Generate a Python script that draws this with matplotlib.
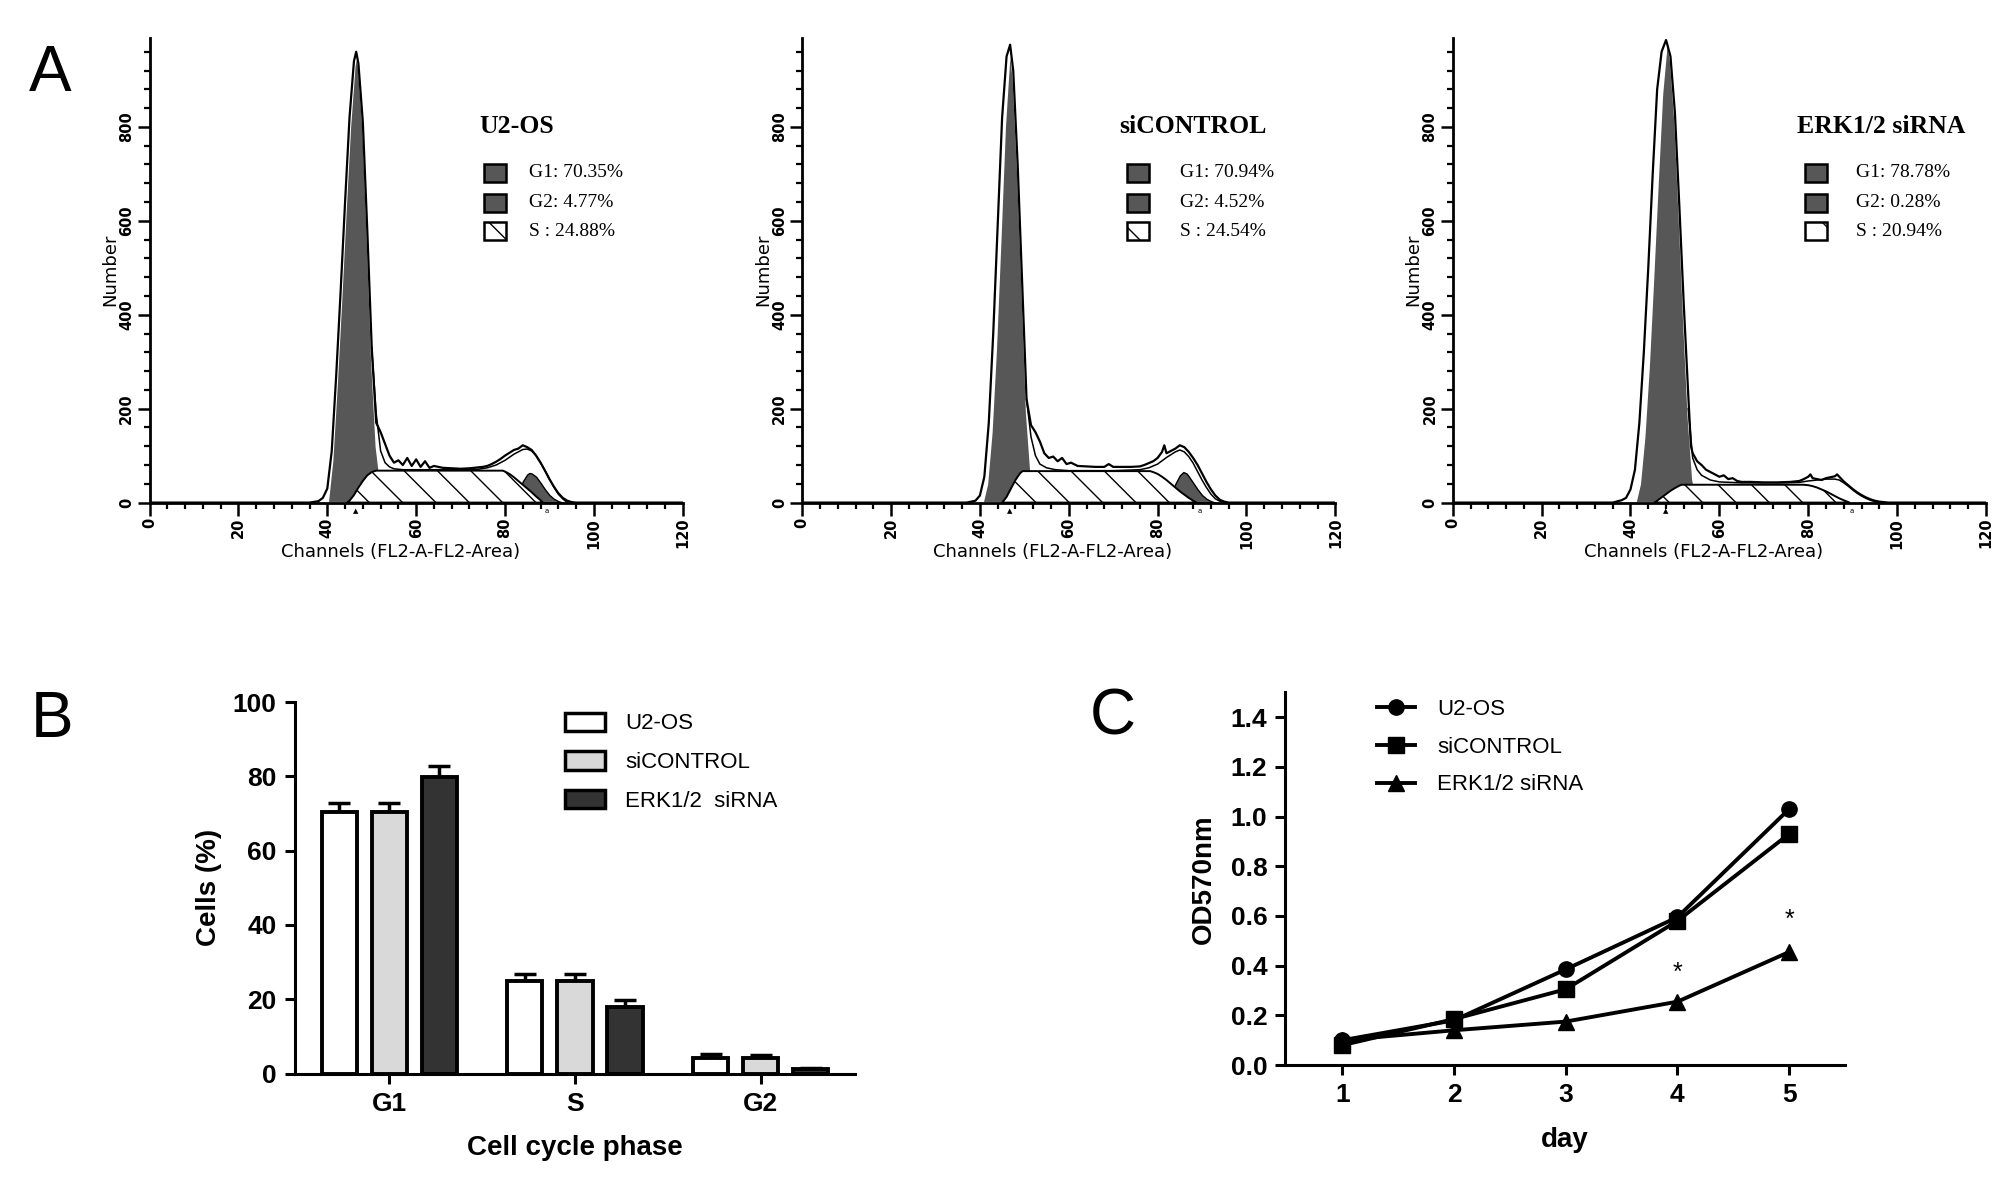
import matplotlib.pyplot as plt
from matplotlib.patches import Rectangle, Patch
from matplotlib.ticker import MultipleLocator
import numpy as np

# ---------------- panel A : flow cytometry histograms ----------------
hist_names = ['U2-OS', 'siCONTROL', 'ERK1/2 siRNA']
hist_pcts = [['G1: 70.35%', 'G2: 4.77%', 'S : 24.88%'],
             ['G1: 70.94%', 'G2: 4.52%', 'S : 24.54%'],
             ['G1: 78.78%', 'G2: 0.28%', 'S : 20.94%']]

# U2-OS
raw_ch_1 = [0, 36, 38, 39, 40, 41, 42, 43, 44, 45, 46, 46.5, 47, 48, 49, 50, 51, 52, 53, 54, 55, 56, 57, 58, 59,
            60, 61, 62, 63, 64, 66, 68, 70, 72, 74, 75, 76, 77, 78, 79, 80, 81, 82, 83, 84, 85, 86, 87, 88, 89,
            90, 91, 92, 93, 94, 95, 96, 120]
raw_n_1 = [0, 0, 3, 10, 30, 110, 270, 450, 640, 820, 940, 960, 935, 810, 580, 330, 170, 150, 125, 100, 85, 90,
           80, 95, 78, 92, 76, 88, 74, 78, 74, 73, 72, 73, 75, 76, 78, 82, 87, 93, 100, 106, 112, 115, 122, 118,
           112, 100, 85, 68, 50, 34, 20, 10, 4, 1, 0, 0]
fit_ch_1 = [50, 51, 52, 53, 54, 55, 57, 60, 65, 70, 74, 76, 78, 80, 82, 84, 85, 86, 87, 88, 89, 90, 91, 92, 93, 94]
fit_n_1 = [330, 190, 110, 85, 76, 72, 70, 70, 70, 70, 71, 74, 80, 90, 103, 113, 114, 110, 100, 85, 68, 50, 33,
           18, 8, 0]
g1_ch_1 = [40, 41, 42, 43, 44, 45, 46, 46.5, 47, 48, 49, 50, 51, 52, 53]
g1_n_1 = [0, 90, 250, 430, 620, 800, 930, 957, 930, 800, 560, 300, 120, 40, 0]
s_ch_1 = [44.5, 45, 46, 47, 48, 49, 50, 51, 79.5, 80, 81, 82, 83, 84, 85, 86, 87, 88, 88.5]
s_n_1 = [0, 4, 16, 32, 46, 58, 65, 68, 68, 66, 61, 54, 46, 38, 30, 22, 13, 5, 0]
g2_ch_1 = [81, 82, 83, 84, 85, 85.5, 86, 87, 88, 89, 90, 91, 92, 93]
g2_n_1 = [0, 6, 22, 45, 60, 63, 62, 55, 42, 28, 16, 8, 3, 0]

# siCONTROL
raw_ch_2 = [0, 37, 39, 40, 41, 42, 43, 44, 45, 46, 46.8, 47.5, 48.5, 49.5, 50.5, 51.5, 52.5, 53.5, 54.5, 55.5,
            56.5, 57.5, 58.5, 59.5, 60.5, 62, 64, 66, 68, 69, 70, 72, 74, 76, 77, 78, 79, 80, 81, 81.5, 82, 83,
            84, 85, 86, 87, 88, 89, 90, 91, 92, 93, 94, 95, 96, 120]
raw_n_2 = [0, 0, 4, 15, 55, 170, 360, 590, 820, 950, 975, 920, 720, 470, 220, 165, 150, 130, 105, 95, 98, 88,
           95, 82, 85, 78, 77, 76, 76, 82, 76, 76, 76, 77, 80, 84, 88, 95, 108, 122, 105, 110, 115, 122, 118,
           108, 95, 80, 62, 44, 28, 15, 6, 2, 0, 0]
fit_ch_2 = [50.5, 51.5, 52.5, 53.5, 55, 57, 60, 70, 76, 78, 80, 82, 84, 85, 86, 87, 88, 89, 90, 91, 92, 93, 94, 95]
fit_n_2 = [220, 140, 100, 82, 74, 70, 68, 68, 70, 74, 82, 96, 108, 112, 108, 98, 84, 66, 48, 32, 18, 8, 3, 0]
g1_ch_2 = [40.5, 41.5, 42.5, 43.5, 44.5, 45.5, 46.5, 46.8, 47.5, 48.5, 49.5, 50.5, 51.5, 52.5]
g1_n_2 = [0, 40, 150, 330, 560, 800, 950, 970, 900, 700, 450, 190, 60, 0]
s_ch_2 = [45, 46, 47, 48, 49, 49.6, 78.3, 79, 80, 81, 82, 83, 84, 85, 86, 87, 88, 88.75]
s_n_2 = [0, 12, 30, 48, 62, 67, 67, 65, 61, 55, 48, 40, 32, 24, 17, 10, 4, 0]
g2_ch_2 = [82, 83, 84, 85, 85.8, 86.5, 87, 88, 89, 90, 91, 92, 93]
g2_n_2 = [0, 15, 40, 58, 65, 62, 56, 42, 28, 16, 8, 3, 0]

# ERK1/2 siRNA
raw_ch_3 = [0, 36, 38, 39, 40, 41, 42, 43, 44, 45, 46, 47, 48, 48.3, 49, 50, 51, 52, 53, 53.6, 54, 55, 56, 57,
            58, 59, 60, 61, 62, 63, 64, 65, 67, 70, 73, 76, 78, 79, 80, 80.5, 81, 82, 83, 84, 85, 86, 86.5, 87,
            88, 89, 90, 91, 92, 93, 94, 95, 96, 97, 98, 120]
raw_n_3 = [0, 0, 5, 10, 28, 70, 170, 320, 500, 700, 880, 960, 985, 975, 950, 830, 630, 420, 230, 120, 105, 88,
           80, 70, 65, 60, 55, 58, 50, 52, 46, 44, 44, 43, 43, 44, 46, 50, 55, 60, 52, 50, 48, 52, 54, 56, 60,
           55, 45, 37, 29, 22, 16, 11, 7, 4, 2, 1, 0, 0]
fit_ch_3 = [53, 54, 55, 56, 58, 60, 65, 75, 78, 80, 82, 84, 86, 87, 88, 89, 90, 91, 92, 93, 94, 95, 96]
fit_n_3 = [200, 95, 70, 58, 48, 44, 42, 42, 43, 46, 48, 50, 50, 48, 42, 35, 27, 20, 14, 9, 5, 2, 0]
g1_ch_3 = [41, 42, 43, 44, 45, 46, 47, 48, 48.3, 49, 50, 51, 52, 53, 54, 55]
g1_n_3 = [0, 40, 140, 290, 480, 680, 870, 975, 984, 940, 810, 600, 380, 180, 50, 0]
s_ch_3 = [45.4, 46, 47, 48, 49, 50, 51, 51.5, 78.9, 80, 81, 82, 83, 84, 85, 86, 87, 88, 89.3]
s_n_3 = [0, 4, 11, 18, 25, 31, 36, 38, 38, 37, 35, 32, 28, 24, 19, 14, 9, 5, 0]
g2_ch_3 = [84, 85, 86, 87, 88, 89]
g2_n_3 = [0, 2, 4, 4, 2, 0]

# G1 / G2 peak markers under the axis
g1_mark = [46.3, 46.8, 47.9]
g2_mark = [89.5, 89.5, 89.8]

# ---------------- panel B : cell cycle distribution ----------------
phases = ['G1', 'S', 'G2']
groups = ['U2-OS', 'siCONTROL', 'ERK1/2  siRNA']
cells_u2os = [70.3, 24.8, 4.3]
cells_sicon = [70.3, 24.8, 4.3]
cells_erk = [79.8, 17.9, 1.2]
sem_u2os = [2.5, 2.0, 1.0]
sem_sicon = [2.5, 2.0, 0.8]
sem_erk = [3.0, 2.0, 0.3]

# ---------------- panel C : MTT growth curve ----------------
days = [1, 2, 3, 4, 5]
od_u2os = [0.10, 0.18, 0.385, 0.595, 1.03]
od_sicon = [0.08, 0.185, 0.305, 0.58, 0.93]
od_erk = [0.10, 0.14, 0.175, 0.255, 0.455]
star_days = [4, 5]
star_od = [0.37, 0.585]

DARK = '#575757'

fig = plt.figure(figsize=(20.08, 11.77), dpi=100)


def draw_hist(ax, raw, fit, g1, s, g2, title, pcts, leg_x, g1m, g2m):
    ax.fill_between(g1[0], g1[1], facecolor=DARK, edgecolor='white', lw=1.6, zorder=2)
    ax.fill_between(g2[0], g2[1], facecolor=DARK, edgecolor='black', lw=1.0, zorder=2)
    ax.fill_between(s[0], s[1], facecolor='white', edgecolor='black', hatch='\\', lw=1.4, zorder=3)
    ax.plot(fit[0], fit[1], color='black', lw=1.1, zorder=4)
    ax.plot(raw[0], raw[1], color='black', lw=1.6, zorder=5)

    ax.set_xlim(0, 120)
    ax.set_ylim(0, 990)
    ax.xaxis.set_major_locator(MultipleLocator(20))
    ax.xaxis.set_minor_locator(MultipleLocator(4))
    ax.yaxis.set_minor_locator(MultipleLocator(40))
    ax.set_yticks([0, 200, 400, 600, 800])
    for sp in ['top', 'right']:
        ax.spines[sp].set_visible(False)
    for sp in ['left', 'bottom']:
        ax.spines[sp].set_linewidth(2.0)
    ax.tick_params(which='major', length=9, width=1.8, labelsize=10.5, pad=2)
    ax.tick_params(which='minor', length=4.5, width=1.6)
    for lbl in ax.get_xticklabels():
        lbl.set_rotation(90)
        lbl.set_fontweight('bold')
    for lbl in ax.get_yticklabels():
        lbl.set_rotation(90)
        lbl.set_va('center')
        lbl.set_fontweight('bold')
    ax.set_xlabel('Channels (FL2-A-FL2-Area)', fontsize=13, labelpad=-4, x=0.47)
    ax.set_ylabel('Number', fontsize=13, labelpad=0, y=0.5)

    for m, sym in ((g1m, '\u25b2'), (g2m, 'a')):
        ax.annotate(sym, (m, 0), xytext=(0, -6), textcoords='offset points',
                    fontsize=5, ha='center', va='center', annotation_clip=False)

    # legend block
    tx, bx, lx = leg_x
    ax.text(tx, 800, title, family='Liberation Serif', fontweight='bold', fontsize=18.5, va='center', ha='left')
    rows = [702, 638, 578]
    for k, (yy, txt) in enumerate(zip(rows, pcts)):
        if k < 2:
            r = Rectangle((bx, yy - 19), 5, 38, facecolor=DARK, edgecolor='black', lw=1.8)
        else:
            r = Rectangle((bx, yy - 19), 5, 38, facecolor='white', edgecolor='black', hatch='\\', lw=1.8)
        ax.add_patch(r)
        ax.text(lx, yy, txt, family='Liberation Serif', fontsize=14, va='center', ha='left')


hist_data = [
    ((raw_ch_1, raw_n_1), (fit_ch_1, fit_n_1), (g1_ch_1, g1_n_1), (s_ch_1, s_n_1), (g2_ch_1, g2_n_1)),
    ((raw_ch_2, raw_n_2), (fit_ch_2, fit_n_2), (g1_ch_2, g1_n_2), (s_ch_2, s_n_2), (g2_ch_2, g2_n_2)),
    ((raw_ch_3, raw_n_3), (fit_ch_3, fit_n_3), (g1_ch_3, g1_n_3), (s_ch_3, s_n_3), (g2_ch_3, g2_n_3)),
]
hist_left = [0.0745, 0.3995, 0.7235]
leg_pos = [(74.3, 75.3, 85.3), (71.3, 73.0, 85.0), (77.5, 79.3, 90.7)]

for i in range(3):
    ax = fig.add_axes([hist_left[i], 0.573, 0.2655, 0.395])
    raw, fit, g1, s, g2 = hist_data[i]
    draw_hist(ax, raw, fit, g1, s, g2, hist_names[i], hist_pcts[i], leg_pos[i], g1_mark[i], g2_mark[i])

plt.rcParams['font.family'] = ['Liberation Sans', 'DejaVu Sans']

# ---------------- panel B ----------------
axb = fig.add_axes([0.1467, 0.0879, 0.2793, 0.3156])
x = np.arange(len(phases))
bw = 0.19
off = 0.27
cols = ['white', '#d9d9d9', '#333333']
vals = [cells_u2os, cells_sicon, cells_erk]
errs = [sem_u2os, sem_sicon, sem_erk]
for j in range(3):
    xx = x + (j - 1) * off
    axb.errorbar(xx, vals[j], yerr=[np.zeros(3), errs[j]], fmt='none', ecolor='black',
                 elinewidth=2.5, capsize=8, capthick=2.5, zorder=2)
    axb.bar(xx, vals[j], bw, color=cols[j], edgecolor='black', linewidth=2.8, zorder=3, label=groups[j])
axb.set_xlim(-0.51, 2.51)
axb.set_ylim(0, 100)
axb.set_xticks(x)
axb.set_xticklabels(phases)
axb.set_yticks(range(0, 101, 20))
for sp in ['top', 'right']:
    axb.spines[sp].set_visible(False)
for sp in ['left', 'bottom']:
    axb.spines[sp].set_linewidth(2.2)
axb.tick_params(length=7, width=2.2, labelsize=19, pad=6)
for lbl in axb.get_xticklabels() + axb.get_yticklabels():
    lbl.set_fontweight('bold')
axb.set_ylabel('Cells (%)', fontsize=20, fontweight='bold', labelpad=8)
axb.set_xlabel('Cell cycle phase', fontsize=20, fontweight='bold', labelpad=14)
hb = [Patch(facecolor=c, edgecolor='black', linewidth=2.5) for c in cols]
axb.legend(hb, groups, loc='upper left', bbox_to_anchor=(0.2814, 0.3946), bbox_transform=fig.transFigure,
           frameon=False, fontsize=16, handlelength=1.8, handleheight=0.9, handletextpad=0.9,
           labelspacing=0.75, borderpad=0, borderaxespad=0)

# ---------------- panel C ----------------
axc = fig.add_axes([0.6401, 0.0951, 0.2787, 0.3167])
axc.plot(days, od_u2os, color='black', lw=2.8, marker='o', ms=11, label='U2-OS')
axc.plot(days, od_sicon, color='black', lw=2.8, marker='s', ms=11, label='siCONTROL')
axc.plot(days, od_erk, color='black', lw=2.8, marker='^', ms=11, label='ERK1/2 siRNA')
for d, v in zip(star_days, star_od):
    axc.text(d, v, '*', ha='center', va='center', fontsize=18)
axc.set_xlim(0.49, 5.5)
axc.set_ylim(0, 1.5)
axc.set_xticks(days)
axc.set_yticks(np.arange(0, 1.41, 0.2))
axc.set_yticklabels(['%.1f' % v for v in np.arange(0, 1.41, 0.2)])
for sp in ['top', 'right']:
    axc.spines[sp].set_visible(False)
for sp in ['left', 'bottom']:
    axc.spines[sp].set_linewidth(2.2)
axc.tick_params(length=7, width=2.2, labelsize=19, pad=6)
for lbl in axc.get_xticklabels() + axc.get_yticklabels():
    lbl.set_fontweight('bold')
axc.set_ylabel('OD570nm', fontsize=20, fontweight='bold', labelpad=10)
axc.set_xlabel('day', fontsize=20, fontweight='bold', labelpad=14)
axc.legend(loc='upper left', bbox_to_anchor=(0.6858, 0.4061), bbox_transform=fig.transFigure,
           frameon=False, fontsize=16, handlelength=1.7, handletextpad=1.0, labelspacing=0.75,
           borderpad=0, borderaxespad=0, numpoints=1)

# panel letters
fig.text(0.0249, 0.937, 'A', fontsize=46, ha='center', va='center')
fig.text(0.0259, 0.3883, 'B', fontsize=46, ha='center', va='center')
fig.text(0.5543, 0.3908, 'C', fontsize=46, ha='center', va='center')

plt.savefig('out.png', dpi=100)
